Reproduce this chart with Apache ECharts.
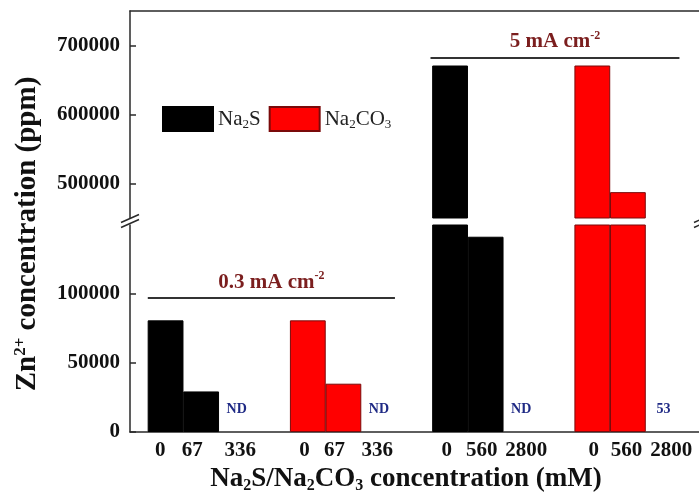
<!DOCTYPE html>
<html><head><meta charset="utf-8">
<script src="https://cdn.jsdelivr.net/npm/echarts@6/dist/echarts.min.js"></script>
<style>html,body{margin:0;padding:0;background:#fff}#c{width:699px;height:500px}</style>
</head><body><div id="c"></div>
<script>
// ---- data ----
const na2sPos = [1, 2, 3, 9, 10, 11];
const na2sValues = [80900, 29400, 0, 671000, 141500, 0];
const na2sNotes = ['', '', 'ND', '', '', 'ND'];
const na2co3Pos = [5, 6, 7, 13, 14, 15];
const na2co3Values = [80900, 35000, 0, 671000, 487500, 53];
const na2co3Notes = ['', '', 'ND', '', '', '53'];
const xTickLabels = ['0', '67', '336', '0', '67', '336', '0', '560', '2800', '0', '560', '2800'];
const xTickLabelPos = [0.85, 1.75, 3.1, 4.91, 5.75, 6.95, 8.91, 9.89, 11.14, 13.04, 13.96, 15.22];
const lowerTicks = [0, 50000, 100000];
const upperTicks = [500000, 600000, 700000];
const lowerRange = [0, 150000];
const upperRange = [450000, 750000];
const xRange = [0, 16];
const annLowText = '0.3 mA cm';
const annLowX = [0.5, 7.45];
const annLowY = 97000;
const annHighText = '5 mA cm';
const annHighX = [8.45, 15.45];
const annHighY = 682500;

// ---- layout ----
const FONT = '"Liberation Serif", "Times New Roman", serif';
const GL = 130, GW = 573;
const UP_TOP = 11, UP_H = 207, LO_TOP = 225, LO_H = 207;
const barW = GW / (xRange[1] - xRange[0]);
const axisColor = '#2a2a2a';
const annColor = '#7b1e1e';
const noteColor = '#1f2a85';
const TICK_FS = 21, TITLE_FS = 27, YTITLE_FS = 29;

const chart = echarts.init(document.getElementById('c'), null, {renderer: 'canvas'});

function lowerData(pos, vals, notes) {
  return pos.map((p, i) => {
    const item = {value: [p, vals[i]]};
    if (notes[i]) {
      item.label = {show: true, formatter: notes[i]};
      item.itemStyle = {borderWidth: 0};
    }
    return item;
  });
}
function upperData(pos, vals) {
  const out = [];
  pos.forEach((p, i) => { if (vals[i] > upperRange[0]) out.push({value: [p, vals[i]]}); });
  return out;
}

const noteLabel = {show: false, position: 'top', distance: 16, color: noteColor,
  fontFamily: FONT, fontWeight: 'bold', fontSize: 14};

function annMarkLine(text, xs, y) {
  return {
    silent: true, animation: false, symbol: ['none', 'none'],
    lineStyle: {color: '#333', width: 2, type: 'solid'},
    label: {show: true, position: 'insideMiddleTop', distance: 4,
      formatter: '{t|' + text + '}{sup|-2}',
      rich: {
        t: {fontFamily: FONT, fontWeight: 'bold', fontSize: 21, color: annColor, lineHeight: 24},
        sup: {fontFamily: FONT, fontWeight: 'bold', fontSize: 12, color: annColor, lineHeight: 12, verticalAlign: 'top'}
      }},
    data: [[{coord: [xs[0], y]}, {coord: [xs[1], y]}]]
  };
}

const blackStyle = {color: '#000', borderColor: '#000', borderWidth: 1};
const redStyle = {color: '#ff0000', borderColor: '#7a0a0a', borderWidth: 1};

function breakMark(cx, cy) {
  return {
    type: 'group', x: cx, y: cy, silent: true, z: 100,
    children: [
      {type: 'polygon', shape: {points: [[-9, 1], [9, -7], [9, -2], [-9, 6]]}, style: {fill: '#fff'}},
      {type: 'line', shape: {x1: -9, y1: 1, x2: 9, y2: -7}, style: {stroke: axisColor, lineWidth: 1.5}},
      {type: 'line', shape: {x1: -9, y1: 6, x2: 9, y2: -2}, style: {stroke: axisColor, lineWidth: 1.5}}
    ]
  };
}
const breakY = (UP_TOP + UP_H + LO_TOP) / 2;

const tickLabelStyle = {fontFamily: FONT, fontWeight: 'bold', fontSize: TICK_FS, color: '#111'};

const option = {
  animation: false,
  backgroundColor: '#fff',
  grid: [
    {left: GL, top: UP_TOP, width: GW, height: UP_H},
    {left: GL, top: LO_TOP, width: GW, height: LO_H}
  ],
  legend: {
    left: 162, top: 106, padding: 0, itemWidth: 50, itemHeight: 24, itemGap: 8,
    icon: 'rect', data: ['Na2S', 'Na2CO3'], selectedMode: false,
    formatter: name => name === 'Na2S' ? 'Na{sub|2}S' : 'Na{sub|2}CO{sub|3}',
    textStyle: {fontFamily: FONT, fontSize: 21, color: '#222', lineHeight: 24,
      rich: {sub: {fontFamily: FONT, fontSize: 13, lineHeight: 13, verticalAlign: 'bottom', color: '#222'}}}
  },
  xAxis: [
    {gridIndex: 0, type: 'value', min: xRange[0], max: xRange[1], position: 'top',
      axisLine: {show: true, onZero: false, lineStyle: {color: axisColor, width: 1.5}},
      axisTick: {show: false}, axisLabel: {show: false}, splitLine: {show: false}},
    {gridIndex: 1, type: 'value', min: xRange[0], max: xRange[1], position: 'bottom',
      axisLine: {show: true, onZero: false, lineStyle: {color: axisColor, width: 1.5}},
      axisTick: {show: false}, splitLine: {show: false},
      axisLabel: Object.assign({customValues: xTickLabelPos, margin: 8,
        formatter: v => xTickLabels[xTickLabelPos.indexOf(v)] || ''}, tickLabelStyle),
      name: 'Na{sub|2}S/Na{sub|2}CO{sub|3} concentration (mM)',
      nameLocation: 'middle', nameGap: 32,
      nameTextStyle: {fontFamily: FONT, fontWeight: 'bold', fontSize: TITLE_FS, color: '#111',
        lineHeight: 30, padding: [0, 17, 0, 0],
        rich: {sub: {fontFamily: FONT, fontWeight: 'bold', fontSize: 16, lineHeight: 16, verticalAlign: 'bottom', color: '#111'}}}}
  ],
  yAxis: [
    {gridIndex: 0, type: 'value', min: upperRange[0], max: upperRange[1],
      axisLine: {show: true, onZero: false, lineStyle: {color: axisColor, width: 1.5}},
      axisTick: {show: true, inside: true, length: 6, customValues: upperTicks, lineStyle: {color: axisColor, width: 1.5}},
      axisLabel: Object.assign({customValues: upperTicks, margin: 10, formatter: v => String(v)}, tickLabelStyle),
      splitLine: {show: false}},
    {gridIndex: 1, type: 'value', min: lowerRange[0], max: lowerRange[1],
      axisLine: {show: true, onZero: false, lineStyle: {color: axisColor, width: 1.5}},
      axisTick: {show: true, inside: true, length: 6, customValues: lowerTicks, lineStyle: {color: axisColor, width: 1.5}},
      axisLabel: Object.assign({customValues: lowerTicks, margin: 10, formatter: v => String(v)}, tickLabelStyle),
      splitLine: {show: false}}
  ],
  series: [
    {name: 'Na2S', type: 'bar', xAxisIndex: 0, yAxisIndex: 0, barWidth: barW, barGap: '-100%',
      itemStyle: blackStyle, emphasis: {disabled: true}, data: upperData(na2sPos, na2sValues),
      markLine: annMarkLine(annHighText, annHighX, annHighY)},
    {name: 'Na2CO3', type: 'bar', xAxisIndex: 0, yAxisIndex: 0, barWidth: barW, barGap: '-100%',
      itemStyle: redStyle, emphasis: {disabled: true}, data: upperData(na2co3Pos, na2co3Values)},
    {name: 'Na2S', type: 'bar', xAxisIndex: 1, yAxisIndex: 1, barWidth: barW, barGap: '-100%',
      itemStyle: blackStyle, emphasis: {disabled: true}, label: noteLabel,
      data: lowerData(na2sPos, na2sValues, na2sNotes),
      markLine: annMarkLine(annLowText, annLowX, annLowY)},
    {name: 'Na2CO3', type: 'bar', xAxisIndex: 1, yAxisIndex: 1, barWidth: barW, barGap: '-100%',
      itemStyle: redStyle, emphasis: {disabled: true}, label: noteLabel,
      data: lowerData(na2co3Pos, na2co3Values, na2co3Notes)}
  ],
  graphic: [
    breakMark(GL, breakY),
    breakMark(GL + GW, breakY),
    {type: 'text', x: 28, y: 234, rotation: Math.PI / 2, silent: true,
      style: {text: 'Zn{sup|2+} concentration (ppm)', fontFamily: FONT, fontWeight: 'bold', fontSize: YTITLE_FS,
        fill: '#111', align: 'center', verticalAlign: 'middle', lineHeight: 32,
        rich: {sup: {fontFamily: FONT, fontWeight: 'bold', fontSize: 17, lineHeight: 17, verticalAlign: 'top', fill: '#111'}}}}
  ]
};
chart.setOption(option);
</script>
</body></html>
